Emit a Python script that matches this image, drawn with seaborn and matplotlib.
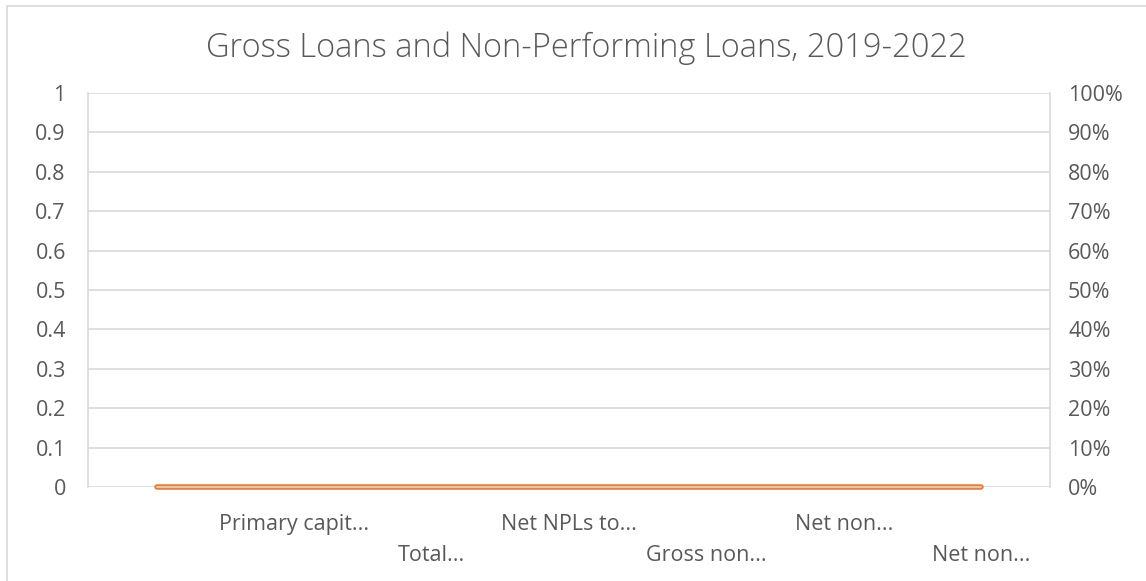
import matplotlib
matplotlib.use("Agg")
import matplotlib.pyplot as plt
import seaborn as sns
import pandas as pd
from matplotlib.patches import Rectangle

categories = ["", "Primary capit...", "Total...", "Net NPLs to...", "Gross non...", "Net non...", "Net non..."]
series_a = [0, 0, 0, 0, 0, 0, 0]   # orange series (right axis)
series_b = [0, 0, 0, 0, 0, 0, 0]   # grey series
left_ticks = [0, 0.1, 0.2, 0.3, 0.4, 0.5, 0.6, 0.7, 0.8, 0.9, 1]
left_labels = ["0", "0.1", "0.2", "0.3", "0.4", "0.5", "0.6", "0.7", "0.8", "0.9", "1"]
right_labels = ["0%", "10%", "20%", "30%", "40%", "50%", "60%", "70%", "80%", "90%", "100%"]
title = "Gross Loans and Non-Performing Loans, 2019-2022"

sns.set_theme(style="white")
plt.rcParams["font.family"] = ["Open Sans", "DejaVu Sans"]

W, H = 1146, 581
fig = plt.figure(figsize=(W / 100, H / 100), dpi=100)
fig.patch.set_facecolor("white")

# outer chart border (light grey), open at right/bottom
fig.patches.append(Rectangle((7 / W, -0.05), 1.2, 1 - 6 / H + 0.05, transform=fig.transFigure,
                             fill=False, edgecolor="#D9D9D9", linewidth=1.2))

ax = fig.add_axes([88 / W, (H - 487) / H, (1050 - 88) / W, (487 - 93) / H])
ax2 = ax.twinx()

pos = list(range(len(categories)))
df = pd.DataFrame({"pos": pos, "a": series_a, "b": series_b})

sns.lineplot(data=df, x="pos", y="a", ax=ax2, color="#ED7D31", linewidth=4.0,
             solid_capstyle="round", clip_on=False, zorder=5)
sns.lineplot(data=df, x="pos", y="b", ax=ax2, color="#D9D9D9", linewidth=1.2,
             clip_on=False, zorder=6)

ax.set_xlim(-0.5, len(categories) - 0.5)
ax2.set_xlim(-0.5, len(categories) - 0.5)
ax.set_ylim(0, 1)
ax2.set_ylim(0, 1)

grid_c = "#D9D9D9"
ax.set_yticks(left_ticks)
ax.set_yticklabels(left_labels)
ax2.set_yticks(left_ticks)
ax2.set_yticklabels(right_labels)
for t in left_ticks:
    ax.axhline(t, color=grid_c, linewidth=1.2, zorder=0)

for a in (ax, ax2):
    for s in a.spines.values():
        s.set_visible(False)
    a.set_xlabel("")
    a.set_ylabel("")
    a.tick_params(axis="both", length=0)
ax.spines["left"].set_visible(True)
ax.spines["left"].set_color(grid_c)
ax.spines["left"].set_linewidth(1.2)
ax2.spines["right"].set_visible(True)
ax2.spines["right"].set_color(grid_c)
ax2.spines["right"].set_linewidth(1.2)

tick_c = "#595959"
fs = 15.5
ax.tick_params(axis="y", labelsize=fs, labelcolor=tick_c, pad=16)
ax2.tick_params(axis="y", labelsize=fs, labelcolor=tick_c, pad=13)

ax.set_xticks(pos)
ax.set_xticklabels([])
ax2.set_xticks([])
for i, lab in enumerate(categories):
    yoff = -0.096 if i % 2 == 1 else -0.173
    ax.text(i, yoff, lab, transform=ax.get_xaxis_transform(), ha="center", va="center",
            fontsize=fs, color=tick_c)

fig.text(0.512, 1 - 48 / H, title, ha="center", va="center", fontsize=23.5, color=tick_c, fontweight="light")

fig.savefig("out.png", dpi=100, facecolor="white")
